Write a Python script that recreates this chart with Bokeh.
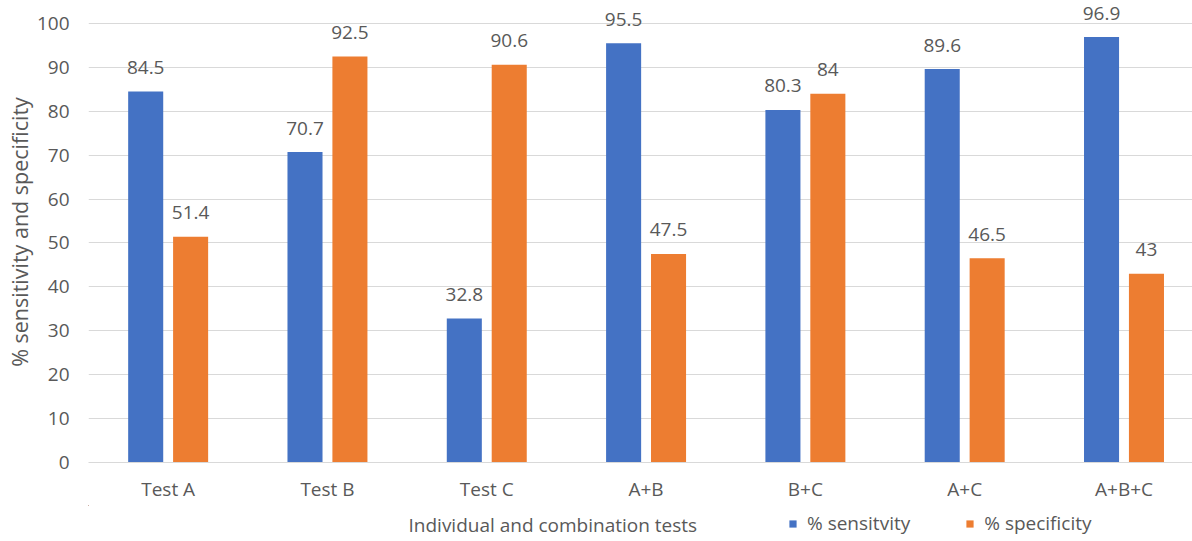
from bokeh.plotting import figure
from bokeh.layouts import column
from bokeh.models import (ColumnDataSource, Range1d, FixedTicker, Legend, LegendItem, Label)
from bokeh.core.properties import value
from bokeh.embed import file_html
from bokeh.resources import INLINE

# Data
tests = ["Test A", "Test B", "Test C", "A+B", "B+C", "A+C", "A+B+C"]
sensitivity = [84.5, 70.7, 32.8, 95.5, 80.3, 89.6, 96.9]
specificity = [51.4, 92.5, 90.6, 47.5, 84, 46.5, 43]
y_ticks = [0, 10, 20, 30, 40, 50, 60, 70, 80, 90, 100]
x_title = "Individual and combination tests"
series_names = ["% sensitvity", "% specificity"]

FONT = "Open Sans"
TEXT = "#595959"
BLUE = "#4472C4"
ORANGE = "#ED7D31"
FS = "19px"

centers = [i + 0.5 for i in range(len(tests))]
offset = 0.141
bar_w = 0.22

def fmt(v):
    return "%g" % v

src_s = ColumnDataSource(dict(x=[c - offset for c in centers], top=sensitivity,
                              lab=[fmt(v) for v in sensitivity]))
src_p = ColumnDataSource(dict(x=[c + offset for c in centers], top=specificity,
                              lab=[fmt(v) for v in specificity]))

# ---- main chart ----
p = figure(width=1192, height=505, output_backend="svg", toolbar_location=None,
           x_range=Range1d(0, 6.93), y_range=Range1d(0, 105),
           min_border_left=88, min_border_right=0, min_border_top=1, min_border_bottom=43)
p.outline_line_color = None
p.background_fill_color = "white"
p.border_fill_color = "white"

p.vbar(x="x", top="top", width=bar_w, bottom=0, source=src_s,
       fill_color=BLUE, line_color=None)
p.vbar(x="x", top="top", width=bar_w, bottom=0, source=src_p,
       fill_color=ORANGE, line_color=None)

# value labels above the bars
for src in (src_s, src_p):
    p.text(x="x", y="top", text="lab", source=src, text_align="center",
           text_baseline="middle", y_offset=-24, text_font=value(FONT),
           text_font_size=FS, text_color=TEXT)

# X axis
p.xaxis.ticker = FixedTicker(ticks=centers)
p.xaxis.major_label_overrides = {c: t for c, t in zip(centers, tests)}
p.xaxis.major_tick_line_color = None
p.xaxis.major_tick_out = 0
p.xaxis.major_tick_in = 0
p.xaxis.minor_tick_line_color = None
p.xaxis.axis_line_color = "#D9D9D9"
p.xaxis.major_label_standoff = 13
p.xaxis.major_label_text_font = FONT
p.xaxis.major_label_text_font_size = FS
p.xaxis.major_label_text_color = TEXT
p.xgrid.grid_line_color = None

# Y axis
p.yaxis.ticker = FixedTicker(ticks=y_ticks)
p.yaxis.major_tick_line_color = None
p.yaxis.major_tick_out = 0
p.yaxis.major_tick_in = 0
p.yaxis.minor_tick_line_color = None
p.yaxis.axis_line_color = None
p.yaxis.major_label_standoff = 19
p.yaxis.major_label_text_font = FONT
p.yaxis.major_label_text_font_size = FS
p.yaxis.major_label_text_color = TEXT
p.yaxis.axis_label = "% sensitivity and specificity"
p.yaxis.axis_label_text_font = FONT
p.yaxis.axis_label_text_font_size = "21.5px"
p.yaxis.axis_label_text_font_style = "normal"
p.yaxis.axis_label_text_color = TEXT
p.yaxis.axis_label_standoff = 0
p.ygrid.ticker = FixedTicker(ticks=y_ticks)
p.ygrid.grid_line_color = "#D9D9D9"
p.ygrid.grid_line_width = 1

# ---- footer strip: axis title and series keys (x in page pixels) ----
q = figure(width=1192, height=36, output_backend="svg", toolbar_location=None,
           x_range=Range1d(88, 1192), y_range=Range1d(0, 36),
           x_axis_type=None, y_axis_type=None,
           min_border_left=88, min_border_right=0, min_border_top=0, min_border_bottom=0)
q.outline_line_color = None
q.xgrid.grid_line_color = None
q.ygrid.grid_line_color = None

# same series as the chart, drawn flat and out of this strip's range; only their keys show
k1 = q.vbar(x="x", top="top", bottom="top", width=bar_w, source=src_s,
            fill_color=BLUE, line_color=None)
k2 = q.vbar(x="x", top="top", bottom="top", width=bar_w, source=src_p,
            fill_color=ORANGE, line_color=None)

q.add_layout(Label(x=408, y=17, text=x_title, text_align="left",
                   text_baseline="middle", text_font=FONT,
                   text_font_size=FS, text_color=TEXT))

legend = Legend(items=[LegendItem(label=series_names[0], renderers=[k1]),
                       LegendItem(label=series_names[1], renderers=[k2])],
                orientation="horizontal", location=(700, 5),
                label_text_font=FONT, label_text_font_size=FS,
                label_text_color=TEXT, glyph_width=9, glyph_height=9,
                label_height=24, label_standoff=10, spacing=55,
                padding=0, margin=0,
                border_line_color=None, background_fill_alpha=0)
q.add_layout(legend)

layout = column(p, q, spacing=0)
open("out.html", "w").write(file_html(layout, INLINE))
